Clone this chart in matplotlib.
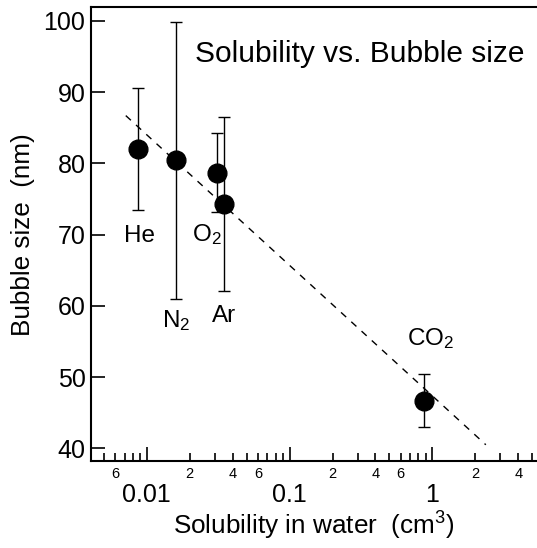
import numpy as np
import matplotlib
matplotlib.use("Agg")
import matplotlib.pyplot as plt

plt.rcParams["font.family"] = ["Liberation Sans", "DejaVu Sans"]
plt.rcParams["mathtext.fontset"] = "custom"
plt.rcParams["mathtext.rm"] = "Liberation Sans"
plt.rcParams["mathtext.default"] = "regular"

# gases, solubility in water (cm3) and bubble size (nm) with error
gases = ["He", "N$_2$", "O$_2$", "Ar", "CO$_2$"]
solubility = [0.00874, 0.01596, 0.0310, 0.0349, 0.879]
bubble_size = [82.0, 80.4, 78.7, 74.3, 46.7]
bubble_err = [8.6, 19.5, 5.6, 12.2, 3.7]

# linear fit on log scale (end points)
fit_x = [0.00713, 2.37]
fit_y = [86.7, 40.5]

# label anchor positions (data coords), left/baseline
label_x = [0.00883, 0.0128, 0.02075, 0.0286, 0.665]
label_y = [69.0, 57.0, 69.1, 57.7, 54.45]
label_ha = ["center", "left", "left", "left", "left"]

fig = plt.figure(figsize=(5.37, 5.48), dpi=100)
ax = fig.add_axes([91 / 537, 1 - 461 / 548, 1 - 91 / 537, (461 - 7.3) / 548])

ax.plot(fit_x, fit_y, color="black", lw=1.0, dashes=(5, 5))
ax.errorbar(solubility, bubble_size, yerr=bubble_err, fmt="o", color="black",
            ms=13.5, elinewidth=1.0, capsize=4.5, capthick=1.0)

for g, lx, ly, ha in zip(gases, label_x, label_y, label_ha):
    ax.text(lx, ly, g, fontsize=17.5, ha=ha, va="baseline")

ax.set_xscale("log")
ax.set_xlim(0.00407, 5.41)
ax.set_ylim(38.22, 101.9)

ax.spines["right"].set_visible(False)
for s in ["left", "bottom", "top"]:
    ax.spines[s].set_linewidth(1.5)

# x ticks: decades labelled below, minor ticks partly labelled
major = [0.01, 0.1, 1]
ax.set_xticks(major)
ax.set_xticklabels(["0.01", "0.1", "1"])
minor = [m * d for d in [0.001, 0.01, 0.1, 1] for m in range(2, 10)]
minor = [v for v in minor if 0.0045 < v < 5.2]
minor_lbl = {0.006: "6", 0.02: "2", 0.04: "4", 0.06: "6",
             0.2: "2", 0.4: "4", 0.6: "6", 2: "2", 4: "4"}
ax.set_xticks(minor, minor=True)
ax.set_xticklabels([next((t for k, t in minor_lbl.items() if np.isclose(k, v)), "")
                    for v in minor], minor=True)

ax.set_yticks([40, 50, 60, 70, 80, 90, 100])

ax.tick_params(axis="x", which="major", direction="in", length=10, width=1.2,
               labelsize=18, pad=16)
ax.tick_params(axis="x", which="minor", direction="in", length=5.5, width=1.2,
               labelsize=10.5, pad=4)
ax.tick_params(axis="y", which="major", direction="in", length=10, width=1.2,
               labelsize=18, pad=4)
ax.tick_params(axis="y", which="minor", left=False)

ax.set_xlabel("Solubility in water  (cm$^3$)", fontsize=18.8, labelpad=2)
ax.set_ylabel("Bubble size  (nm)", fontsize=18.8, labelpad=6)

ax.text((195 - 91) / 446, (461 - 61.7) / (461 - 7.3), "Solubility vs. Bubble size",
        transform=ax.transAxes, fontsize=21.5, ha="left", va="baseline")

fig.savefig("out.png", dpi=100)
